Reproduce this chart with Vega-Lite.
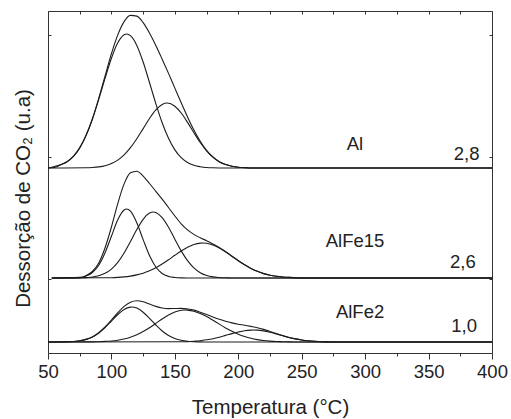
{
  "$schema": "https://vega.github.io/schema/vega-lite/v6.json",
  "width": 444,
  "height": 342,
  "autosize": {"type": "none"},
  "padding": {"left": 48, "top": 11, "right": 19, "bottom": 66},
  "background": "white",
  "config": {
    "font": "Liberation Sans",
    "view": {"stroke": null},
    "axis": {"domainColor": "#333", "tickColor": "#333", "labelColor": "#222", "titleColor": "#222", "labelFont": "Liberation Sans", "titleFont": "Liberation Sans", "titleFontWeight": "normal", "grid": false, "domainWidth": 1, "tickWidth": 1}
  },
  "datasets": {
    "curves": [
      {"c":"AlT","t":50,"v":185},{"c":"AlT","t":55,"v":185.5},{"c":"AlT","t":60,"v":188.2},{"c":"AlT","t":65,"v":191.3},{"c":"AlT","t":70,"v":196.6},{"c":"AlT","t":75,"v":205.1},{"c":"AlT","t":80,"v":217.7},{"c":"AlT","t":85,"v":234.3},{"c":"AlT","t":90,"v":254.7},{"c":"AlT","t":95,"v":277.1},{"c":"AlT","t":100,"v":299.3},{"c":"AlT","t":105,"v":318.1},{"c":"AlT","t":110,"v":331.4},{"c":"AlT","t":115,"v":337.6},{"c":"AlT","t":120,"v":336.9},{"c":"AlT","t":125,"v":330.4},{"c":"AlT","t":130,"v":320.0},{"c":"AlT","t":135,"v":307.5},{"c":"AlT","t":140,"v":293.8},{"c":"AlT","t":145,"v":279.6},{"c":"AlT","t":150,"v":264.9},{"c":"AlT","t":155,"v":250.3},{"c":"AlT","t":160,"v":236.1},{"c":"AlT","t":165,"v":223.0},{"c":"AlT","t":170,"v":211.8},{"c":"AlT","t":175,"v":202.7},{"c":"AlT","t":180,"v":196.0},{"c":"AlT","t":185,"v":191.3},{"c":"AlT","t":190,"v":188.5},{"c":"AlT","t":195,"v":186.8},{"c":"AlT","t":200,"v":185.8},{"c":"AlT","t":205,"v":185.4},{"c":"AlT","t":210,"v":185},{"c":"AlT","t":400,"v":185},
      {"c":"Al1","t":50,"v":185},{"c":"Al1","t":55,"v":186.5},{"c":"Al1","t":60,"v":188.2},{"c":"Al1","t":65,"v":191.3},{"c":"Al1","t":70,"v":196.6},{"c":"Al1","t":75,"v":205.1},{"c":"Al1","t":80,"v":217.5},{"c":"Al1","t":85,"v":233.8},{"c":"Al1","t":90,"v":253.6},{"c":"Al1","t":95,"v":274.8},{"c":"Al1","t":100,"v":294.8},{"c":"Al1","t":105,"v":310.2},{"c":"Al1","t":110,"v":318.3},{"c":"Al1","t":112,"v":319},{"c":"Al1","t":115,"v":317.3},{"c":"Al1","t":120,"v":307.6},{"c":"Al1","t":125,"v":291.0},{"c":"Al1","t":130,"v":270.5},{"c":"Al1","t":135,"v":249.4},{"c":"Al1","t":140,"v":230.2},{"c":"Al1","t":145,"v":214.7},{"c":"Al1","t":150,"v":203.1},{"c":"Al1","t":155,"v":195.3},{"c":"Al1","t":160,"v":190.5},{"c":"Al1","t":165,"v":187.7},{"c":"Al1","t":170,"v":186.3},{"c":"Al1","t":175,"v":185.5},{"c":"Al1","t":180,"v":185.2},{"c":"Al1","t":190,"v":185},{"c":"Al1","t":400,"v":185},
      {"c":"Al2","t":50,"v":185},{"c":"Al2","t":80,"v":185.2},{"c":"Al2","t":85,"v":185.5},{"c":"Al2","t":90,"v":186.1},{"c":"Al2","t":95,"v":187.3},{"c":"Al2","t":100,"v":189.5},{"c":"Al2","t":105,"v":192.9},{"c":"Al2","t":110,"v":198.1},{"c":"Al2","t":115,"v":205.3},{"c":"Al2","t":120,"v":214.3},{"c":"Al2","t":125,"v":224.4},{"c":"Al2","t":130,"v":234.5},{"c":"Al2","t":135,"v":243.1},{"c":"Al2","t":140,"v":248.6},{"c":"Al2","t":144,"v":250},{"c":"Al2","t":150,"v":246.8},{"c":"Al2","t":155,"v":240.0},{"c":"Al2","t":160,"v":230.6},{"c":"Al2","t":165,"v":220.3},{"c":"Al2","t":170,"v":210.5},{"c":"Al2","t":175,"v":202.2},{"c":"Al2","t":180,"v":195.8},{"c":"Al2","t":185,"v":191.3},{"c":"Al2","t":190,"v":188.5},{"c":"Al2","t":195,"v":186.8},{"c":"Al2","t":200,"v":185.8},{"c":"Al2","t":205,"v":185.4},{"c":"Al2","t":210,"v":185},{"c":"Al2","t":400,"v":185},
      {"c":"F15T","t":53,"v":75},{"c":"F15T","t":75,"v":75.1},{"c":"F15T","t":80,"v":77.4},{"c":"F15T","t":85,"v":81.5},{"c":"F15T","t":90,"v":90.0},{"c":"F15T","t":95,"v":105.2},{"c":"F15T","t":100,"v":126.0},{"c":"F15T","t":105,"v":149.4},{"c":"F15T","t":110,"v":169.1},{"c":"F15T","t":115,"v":180.2},{"c":"F15T","t":120,"v":181.8},{"c":"F15T","t":125,"v":176.9},{"c":"F15T","t":130,"v":169.5},{"c":"F15T","t":135,"v":161.7},{"c":"F15T","t":140,"v":153.8},{"c":"F15T","t":145,"v":145.5},{"c":"F15T","t":150,"v":137.0},{"c":"F15T","t":155,"v":129.2},{"c":"F15T","t":160,"v":123.1},{"c":"F15T","t":165,"v":118.6},{"c":"F15T","t":170,"v":115.2},{"c":"F15T","t":175,"v":112.3},{"c":"F15T","t":180,"v":109.1},{"c":"F15T","t":185,"v":105.6},{"c":"F15T","t":190,"v":101.2},{"c":"F15T","t":195,"v":96.8},{"c":"F15T","t":200,"v":92.3},{"c":"F15T","t":205,"v":88.2},{"c":"F15T","t":210,"v":84.6},{"c":"F15T","t":215,"v":81.7},{"c":"F15T","t":220,"v":79.4},{"c":"F15T","t":225,"v":77.8},{"c":"F15T","t":230,"v":76.7},{"c":"F15T","t":235,"v":76.0},{"c":"F15T","t":240,"v":75.6},{"c":"F15T","t":245,"v":75.3},{"c":"F15T","t":250,"v":75},{"c":"F15T","t":400,"v":75},
      {"c":"F15A","t":53,"v":75},{"c":"F15A","t":75,"v":75.6},{"c":"F15A","t":80,"v":77.0},{"c":"F15A","t":85,"v":80.5},{"c":"F15A","t":90,"v":87.8},{"c":"F15A","t":95,"v":100.3},{"c":"F15A","t":100,"v":116.8},{"c":"F15A","t":105,"v":133.2},{"c":"F15A","t":110,"v":143.0},{"c":"F15A","t":112,"v":144},{"c":"F15A","t":115,"v":141.9},{"c":"F15A","t":120,"v":130.3},{"c":"F15A","t":125,"v":113.4},{"c":"F15A","t":130,"v":97.4},{"c":"F15A","t":135,"v":86.0},{"c":"F15A","t":140,"v":79.5},{"c":"F15A","t":145,"v":76.6},{"c":"F15A","t":150,"v":75.5},{"c":"F15A","t":155,"v":75.1},{"c":"F15A","t":160,"v":75},{"c":"F15A","t":400,"v":75},
      {"c":"F15B","t":53,"v":75},{"c":"F15B","t":80,"v":75.4},{"c":"F15B","t":85,"v":76.0},{"c":"F15B","t":90,"v":77.2},{"c":"F15B","t":95,"v":79.7},{"c":"F15B","t":100,"v":83.9},{"c":"F15B","t":105,"v":90.6},{"c":"F15B","t":110,"v":100.0},{"c":"F15B","t":115,"v":111.4},{"c":"F15B","t":120,"v":123.4},{"c":"F15B","t":125,"v":133.7},{"c":"F15B","t":130,"v":139.9},{"c":"F15B","t":133,"v":141},{"c":"F15B","t":135,"v":140.5},{"c":"F15B","t":140,"v":135.3},{"c":"F15B","t":145,"v":125.7},{"c":"F15B","t":150,"v":113.8},{"c":"F15B","t":155,"v":102.1},{"c":"F15B","t":160,"v":92.3},{"c":"F15B","t":165,"v":85.1},{"c":"F15B","t":170,"v":80.3},{"c":"F15B","t":175,"v":77.6},{"c":"F15B","t":180,"v":76.1},{"c":"F15B","t":185,"v":75.5},{"c":"F15B","t":190,"v":75.2},{"c":"F15B","t":195,"v":75},{"c":"F15B","t":400,"v":75},
      {"c":"F15C","t":53,"v":75},{"c":"F15C","t":95,"v":75.2},{"c":"F15C","t":100,"v":75.3},{"c":"F15C","t":105,"v":75.6},{"c":"F15C","t":110,"v":76.1},{"c":"F15C","t":115,"v":76.9},{"c":"F15C","t":120,"v":78.1},{"c":"F15C","t":125,"v":79.8},{"c":"F15C","t":130,"v":82.2},{"c":"F15C","t":135,"v":85.2},{"c":"F15C","t":140,"v":89.0},{"c":"F15C","t":145,"v":93.2},{"c":"F15C","t":150,"v":97.7},{"c":"F15C","t":155,"v":102.0},{"c":"F15C","t":160,"v":105.8},{"c":"F15C","t":165,"v":108.5},{"c":"F15C","t":170,"v":109.9},{"c":"F15C","t":172,"v":110},{"c":"F15C","t":175,"v":109.7},{"c":"F15C","t":180,"v":108.0},{"c":"F15C","t":185,"v":105.1},{"c":"F15C","t":190,"v":101.2},{"c":"F15C","t":195,"v":96.8},{"c":"F15C","t":200,"v":92.3},{"c":"F15C","t":205,"v":88.2},{"c":"F15C","t":210,"v":84.6},{"c":"F15C","t":215,"v":81.7},{"c":"F15C","t":220,"v":79.4},{"c":"F15C","t":225,"v":77.8},{"c":"F15C","t":230,"v":76.7},{"c":"F15C","t":235,"v":76.0},{"c":"F15C","t":240,"v":75.6},{"c":"F15C","t":245,"v":75.3},{"c":"F15C","t":250,"v":75},{"c":"F15C","t":400,"v":75},
      {"c":"F2T","t":50,"v":11},{"c":"F2T","t":70,"v":11.5},{"c":"F2T","t":75,"v":12.2},{"c":"F2T","t":80,"v":13.6},{"c":"F2T","t":85,"v":16.1},{"c":"F2T","t":90,"v":20.3},{"c":"F2T","t":95,"v":26.1},{"c":"F2T","t":100,"v":33.0},{"c":"F2T","t":105,"v":40.3},{"c":"F2T","t":110,"v":46.6},{"c":"F2T","t":115,"v":50.7},{"c":"F2T","t":120,"v":52.2},{"c":"F2T","t":125,"v":51.3},{"c":"F2T","t":130,"v":48.9},{"c":"F2T","t":135,"v":46.6},{"c":"F2T","t":140,"v":45.0},{"c":"F2T","t":145,"v":44.4},{"c":"F2T","t":150,"v":44.5},{"c":"F2T","t":155,"v":44.6},{"c":"F2T","t":160,"v":44.0},{"c":"F2T","t":165,"v":42.9},{"c":"F2T","t":170,"v":40.8},{"c":"F2T","t":175,"v":38.6},{"c":"F2T","t":180,"v":36.0},{"c":"F2T","t":185,"v":33.7},{"c":"F2T","t":190,"v":31.7},{"c":"F2T","t":195,"v":30.1},{"c":"F2T","t":200,"v":28.8},{"c":"F2T","t":205,"v":27.8},{"c":"F2T","t":210,"v":26.6},{"c":"F2T","t":215,"v":25.3},{"c":"F2T","t":220,"v":23.6},{"c":"F2T","t":225,"v":21.6},{"c":"F2T","t":230,"v":19.5},{"c":"F2T","t":235,"v":17.5},{"c":"F2T","t":240,"v":15.5},{"c":"F2T","t":245,"v":14.1},{"c":"F2T","t":250,"v":13.0},{"c":"F2T","t":255,"v":12.2},{"c":"F2T","t":260,"v":11.7},{"c":"F2T","t":265,"v":11.4},{"c":"F2T","t":270,"v":11.1},{"c":"F2T","t":280,"v":11},{"c":"F2T","t":400,"v":11},
      {"c":"F21","t":50,"v":11},{"c":"F21","t":70,"v":11.5},{"c":"F21","t":75,"v":12.2},{"c":"F21","t":80,"v":13.6},{"c":"F21","t":85,"v":16.1},{"c":"F21","t":90,"v":20.0},{"c":"F21","t":95,"v":25.5},{"c":"F21","t":100,"v":32.0},{"c":"F21","t":105,"v":38.5},{"c":"F21","t":110,"v":43.6},{"c":"F21","t":115,"v":45.9},{"c":"F21","t":116,"v":46},{"c":"F21","t":120,"v":44.9},{"c":"F21","t":125,"v":40.8},{"c":"F21","t":130,"v":34.6},{"c":"F21","t":135,"v":28.0},{"c":"F21","t":140,"v":22.0},{"c":"F21","t":145,"v":17.5},{"c":"F21","t":150,"v":14.5},{"c":"F21","t":155,"v":12.7},{"c":"F21","t":160,"v":11.7},{"c":"F21","t":165,"v":11.3},{"c":"F21","t":170,"v":11.1},{"c":"F21","t":180,"v":11},{"c":"F21","t":400,"v":11},
      {"c":"F22","t":50,"v":11},{"c":"F22","t":85,"v":11.1},{"c":"F22","t":90,"v":11.3},{"c":"F22","t":95,"v":11.6},{"c":"F22","t":100,"v":12.0},{"c":"F22","t":105,"v":12.8},{"c":"F22","t":110,"v":14.0},{"c":"F22","t":115,"v":15.8},{"c":"F22","t":120,"v":18.3},{"c":"F22","t":125,"v":21.5},{"c":"F22","t":130,"v":25.3},{"c":"F22","t":135,"v":29.6},{"c":"F22","t":140,"v":34.0},{"c":"F22","t":145,"v":37.9},{"c":"F22","t":150,"v":41.0},{"c":"F22","t":155,"v":42.7},{"c":"F22","t":158,"v":43},{"c":"F22","t":160,"v":42.9},{"c":"F22","t":165,"v":41.8},{"c":"F22","t":170,"v":39.5},{"c":"F22","t":175,"v":36.4},{"c":"F22","t":180,"v":32.7},{"c":"F22","t":185,"v":28.9},{"c":"F22","t":190,"v":25.1},{"c":"F22","t":195,"v":21.7},{"c":"F22","t":200,"v":18.8},{"c":"F22","t":205,"v":16.5},{"c":"F22","t":210,"v":14.7},{"c":"F22","t":215,"v":13.4},{"c":"F22","t":220,"v":12.5},{"c":"F22","t":225,"v":11.9},{"c":"F22","t":230,"v":11.5},{"c":"F22","t":235,"v":11.3},{"c":"F22","t":240,"v":11.1},{"c":"F22","t":250,"v":11},{"c":"F22","t":400,"v":11},
      {"c":"F23","t":50,"v":11},{"c":"F23","t":155,"v":11.2},{"c":"F23","t":160,"v":11.4},{"c":"F23","t":165,"v":11.8},{"c":"F23","t":170,"v":12.3},{"c":"F23","t":175,"v":13.2},{"c":"F23","t":180,"v":14.3},{"c":"F23","t":185,"v":15.8},{"c":"F23","t":190,"v":17.6},{"c":"F23","t":195,"v":19.4},{"c":"F23","t":200,"v":21.0},{"c":"F23","t":205,"v":22.3},{"c":"F23","t":210,"v":22.9},{"c":"F23","t":212,"v":23},{"c":"F23","t":215,"v":22.9},{"c":"F23","t":220,"v":22.1},{"c":"F23","t":225,"v":20.7},{"c":"F23","t":230,"v":19.0},{"c":"F23","t":235,"v":17.2},{"c":"F23","t":240,"v":15.5},{"c":"F23","t":245,"v":14.1},{"c":"F23","t":250,"v":13.0},{"c":"F23","t":255,"v":12.2},{"c":"F23","t":260,"v":11.7},{"c":"F23","t":265,"v":11.4},{"c":"F23","t":270,"v":11.1},{"c":"F23","t":280,"v":11},{"c":"F23","t":400,"v":11}
    ],
    "labels": [
      {"txt": "Al", "t": 292, "v": 209},
      {"txt": "2,8", "t": 380, "v": 199},
      {"txt": "AlFe15", "t": 292, "v": 112},
      {"txt": "2,6", "t": 377, "v": 91},
      {"txt": "AlFe2", "t": 296, "v": 41},
      {"txt": "1,0", "t": 378, "v": 27}
    ]
  },
  "layer": [
    {
      "data": {"name": "curves"},
      "mark": {"type": "line", "color": "#1c1c1c", "strokeWidth": 1.1, "interpolate": "monotone", "clip": true},
      "encoding": {
        "x": {"field": "t", "type": "quantitative", "scale": {"domain": [50, 400], "nice": false, "zero": false},
          "axis": {"orient": "bottom", "values": [50,75,100,125,150,175,200,225,250,275,300,325,350,375,400],
            "labelExpr": "datum.value % 50 === 0 ? datum.label : ''",
            "tickSize": {"condition": {"test": "datum.value % 50 === 0", "value": 6}, "value": 3},
            "labelFontSize": 18.5, "labelPadding": 3, "labelFlush": false, "labelOverlap": false,
            "title": "Temperatura (°C)", "titleFontSize": 20.5, "titlePadding": 17}},
        "y": {"field": "v", "type": "quantitative", "scale": {"domain": [0, 342], "nice": false, "zero": false},
          "axis": {"orient": "left", "values": [74, 196, 318], "labels": false, "tickSize": -3,
            "title": "Dessorção de CO₂ (u.a)", "titleFontSize": 20.5, "titleX": -25, "titleY": 187, "titleBaseline": "middle", "titleAlign": "center", "titleAngle": -90}},
        "detail": {"field": "c", "type": "nominal"}
      }
    },
    {
      "data": {"name": "labels"},
      "mark": {"type": "text", "fontSize": 18.5, "color": "#222", "align": "center", "baseline": "middle", "font": "Liberation Sans"},
      "encoding": {
        "x": {"field": "t", "type": "quantitative",
          "axis": {"orient": "top", "values": [50,75,100,125,150,175,200,225,250,275,300,325,350,375,400], "labels": false, "tickSize": -3, "title": null}},
        "y": {"field": "v", "type": "quantitative",
          "axis": {"orient": "right", "values": [74, 196, 318], "labels": false, "tickSize": -3, "title": null}},
        "text": {"field": "txt", "type": "nominal"}
      }
    }
  ],
  "resolve": {"axis": {"x": "independent", "y": "independent"}}
}
